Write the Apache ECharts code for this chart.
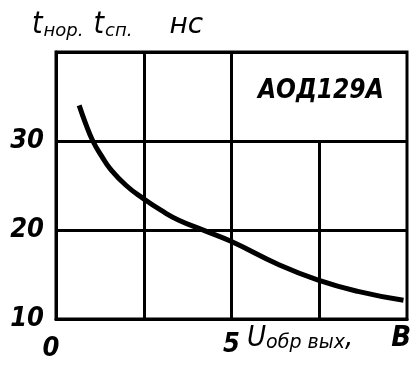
<!DOCTYPE html>
<html>
<head>
<meta charset="utf-8">
<script src="https://cdn.jsdelivr.net/npm/echarts@6/dist/echarts.min.js"></script>
<style>
  html, body { margin: 0; padding: 0; background: #fff; }
  #chart { width: 417px; height: 369px; }
</style>
</head>
<body>
<div id="chart"></div>
<script>
// U обр вых, В  ->  t нор, t сп, нс
const uValues = [0.66, 0.85, 1.05, 1.3, 1.54, 2.0, 2.5, 3.0, 3.5, 4.25, 5.0, 6.35, 7.45, 8.6, 9.9];
const tValues = [34.0, 31.9, 30.0, 28.3, 26.9, 25.0, 23.5, 22.2, 21.1, 19.9, 18.7, 16.1, 14.4, 13.1, 12.1];
const xTickLabels = [0, 5];
const yTickLabels = [10, 20, 30];
// vertical grid lines: [x, upper end]
const xGridLines = [[2.5, 40], [5, 40], [7.5, 30]];
const deviceName = 'АОД129А';

const narrow = '"DejaVu Sans Condensed"';
const wide = '"DejaVu Sans"';
const myChart = echarts.init(document.getElementById('chart'));

const tickLabel = {
    color: '#000',
    fontFamily: narrow,
    fontStyle: 'italic',
    fontWeight: 'bold',
    fontSize: 27
};

const option = {
    animation: false,
    grid: {
        left: 56, right: 10, top: 52, bottom: 50,
        show: true,
        borderColor: '#000',
        borderWidth: 3
    },
    xAxis: {
        type: 'value',
        min: 0, max: 10, interval: 2.5,
        axisLine: { show: true, lineStyle: { color: '#000', width: 3 } },
        axisTick: { show: false },
        splitLine: { show: false },
        axisLabel: Object.assign({}, tickLabel, {
            margin: 12,
            formatter: (v) => v === 0 ? '{z|0}' : (xTickLabels.indexOf(v) >= 0 ? String(v) : ''),
            rich: { z: Object.assign({}, tickLabel, { padding: [4, 10, 0, 0] }) }
        })
    },
    yAxis: {
        type: 'value',
        min: 10, max: 40, interval: 10,
        axisLine: { show: true, lineStyle: { color: '#000', width: 3 } },
        axisTick: { show: false },
        splitLine: { show: true, lineStyle: { color: '#000', width: 3 } },
        axisLabel: Object.assign({}, tickLabel, {
            margin: 12,
            formatter: (v) => yTickLabels.indexOf(v) >= 0 ? String(v) : ''
        })
    },
    graphic: [
        {
            type: 'text', left: 32, top: 10,
            style: {
                text: '{b|t}{s|нор.}{b2|t}{s|сп.}{u|нс}',
                fill: '#000',
                rich: {
                    b: { fontFamily: narrow, fontStyle: 'italic', fontSize: 30, fill: '#000', verticalAlign: 'bottom', padding: [0, 1, 0, 0] },
                    b2: { fontFamily: narrow, fontStyle: 'italic', fontSize: 30, fill: '#000', verticalAlign: 'bottom', padding: [0, 1, 0, 10] },
                    s: { fontFamily: wide, fontStyle: 'italic', fontSize: 18, fill: '#000', verticalAlign: 'bottom' },
                    u: { fontFamily: wide, fontStyle: 'italic', fontSize: 28, fill: '#000', verticalAlign: 'bottom', padding: [0, 0, 0, 37] }
                }
            }
        },
        {
            type: 'text', left: 258, top: 78,
            style: {
                text: deviceName,
                fill: '#000',
                font: 'italic bold 26px ' + narrow
            }
        },
        {
            type: 'text', left: 247, top: 324,
            style: {
                text: '{b|U}{s|обр вых}{b|,}{c|В}',
                fill: '#000',
                rich: {
                    b: { fontFamily: narrow, fontStyle: 'italic', fontSize: 29, fill: '#000', verticalAlign: 'bottom' },
                    s: { fontFamily: wide, fontStyle: 'italic', fontSize: 19, fill: '#000', verticalAlign: 'bottom' },
                    c: { fontFamily: narrow, fontStyle: 'italic', fontWeight: 'bold', fontSize: 29, fill: '#000', verticalAlign: 'bottom', padding: [0, 0, 0, 38] }
                }
            }
        }
    ],
    series: [{
        type: 'line',
        smooth: true,
        showSymbol: false,
        lineStyle: { color: '#000', width: 5 },
        data: uValues.map((u, i) => [u, tValues[i]]),
        markLine: {
            silent: true,
            symbol: 'none',
            label: { show: false },
            lineStyle: { color: '#000', width: 3, type: 'solid' },
            data: xGridLines.map(g => [{ coord: [g[0], 10] }, { coord: [g[0], g[1]] }])
        }
    }]
};
myChart.setOption(option);
</script>
</body>
</html>
